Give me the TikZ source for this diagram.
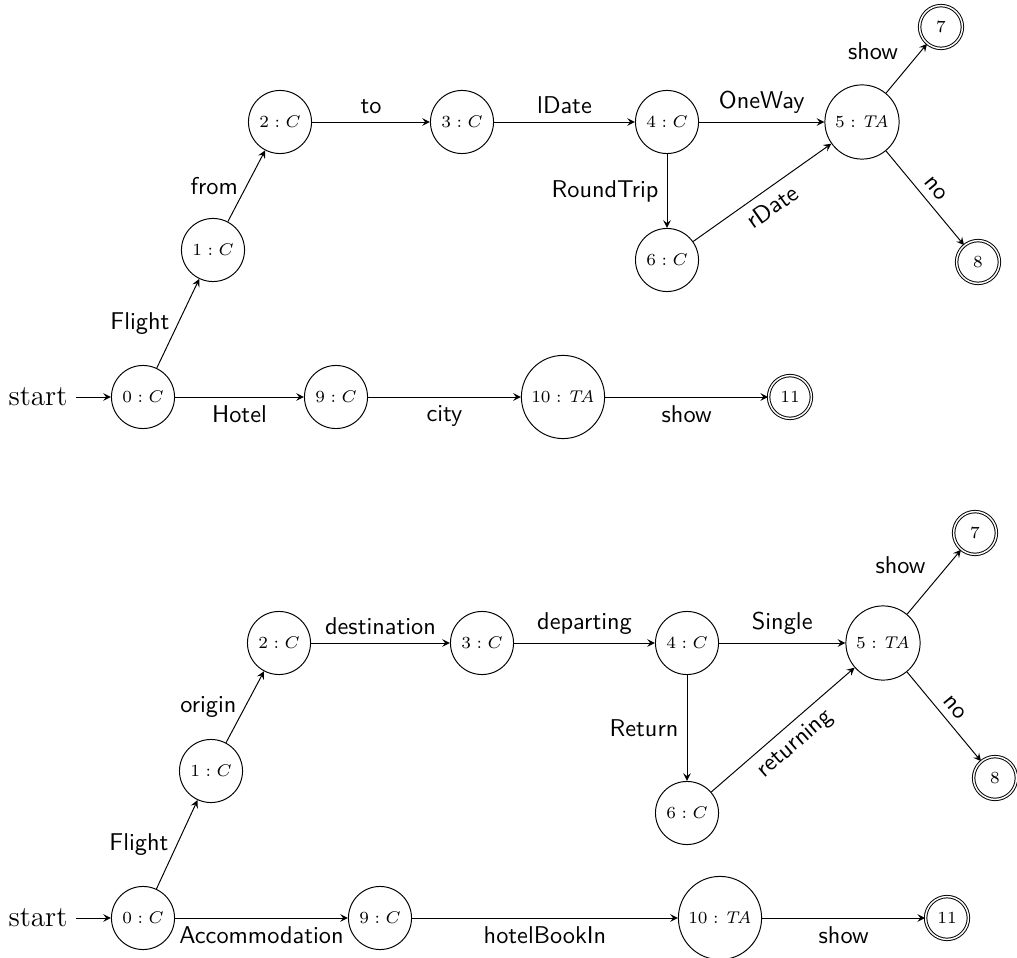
\documentclass[tikz,border=0pt]{standalone}
\begin{document}
\begin{tikzpicture}[x=0.4115pt,y=-0.4115pt,
  cstate/.style={circle,draw,font=\scriptsize,inner sep=3.2pt},
  fstate/.style={cstate,double,minimum size=17.6pt,inner sep=0pt},
  tr/.style={-stealth},
  lbl/.style={font=\sffamily}]
\useasboundingbox (0,0) rectangle (1017,958);
% flights and hotels
\node (s1) at (38,397) {\large start};
\node[cstate] (a0) at (143,397) {$0:C$};
\node[cstate] (a1) at (213,250) {$1:C$};
\node[cstate] (a2) at (280,122) {$2:C$};
\node[cstate] (a3) at (462,122) {$3:C$};
\node[cstate] (a4) at (667,122) {$4:C$};
\node[cstate] (a5) at (862,122) {$5:\mathit{TA}$};
\node[cstate] (a6) at (667,260) {$6:C$};
\node[fstate] (a7) at (941,27) {$7$};
\node[fstate] (a8) at (978,262) {$8$};
\node[cstate] (a9) at (336,397) {$9:C$};
\node[cstate] (a10) at (563,397) {$10:\mathit{TA}$};
\node[fstate] (a11) at (790,397) {$11$};
\draw[tr] (s1) -- (a0);
\draw[tr] (a0) -- node[lbl,left] {Flight} (a1);
\draw[tr] (a1) -- node[lbl,left] {from} (a2);
\draw[tr] (a2) -- node[lbl,above] {to} (a3);
\draw[tr] (a3) -- node[lbl,above] {lDate} (a4);
\draw[tr] (a4) -- node[lbl,above] {OneWay} (a5);
\draw[tr] (a4) -- node[lbl,left] {RoundTrip} (a6);
\draw[tr] (a6) -- node[lbl,below,sloped] {rDate} (a5);
\draw[tr] (a5) -- node[lbl,above left] {show} (a7);
\draw[tr] (a5) -- node[lbl,above,sloped] {no} (a8);
\draw[tr] (a0) -- node[lbl,below] {Hotel} (a9);
\draw[tr] (a9) -- node[lbl,below] {city} (a10);
\draw[tr] (a10) -- node[lbl,below] {show} (a11);
% same with other names
\node (s2) at (38,918) {\large start};
\node[cstate] (b0) at (143,918) {$0:C$};
\node[cstate] (b1) at (211,771) {$1:C$};
\node[cstate] (b2) at (279,643) {$2:C$};
\node[cstate] (b3) at (482,643) {$3:C$};
\node[cstate] (b4) at (687,643) {$4:C$};
\node[cstate] (b5) at (883,643) {$5:\mathit{TA}$};
\node[cstate] (b6) at (687,813) {$6:C$};
\node[fstate] (b7) at (975,533) {$7$};
\node[fstate] (b8) at (995,778) {$8$};
\node[cstate] (b9) at (380,918) {$9:C$};
\node[cstate] (b10) at (720,918) {$10:\mathit{TA}$};
\node[fstate] (b11) at (947,918) {$11$};
\draw[tr] (s2) -- (b0);
\draw[tr] (b0) -- node[lbl,left] {Flight} (b1);
\draw[tr] (b1) -- node[lbl,left] {origin} (b2);
\draw[tr] (b2) -- node[lbl,above] {destination} (b3);
\draw[tr] (b3) -- node[lbl,above] {departing} (b4);
\draw[tr] (b4) -- node[lbl,above] {Single} (b5);
\draw[tr] (b4) -- node[lbl,left] {Return} (b6);
\draw[tr] (b6) -- node[lbl,below,sloped] {returning} (b5);
\draw[tr] (b5) -- node[lbl,above left] {show} (b7);
\draw[tr] (b5) -- node[lbl,above,sloped] {no} (b8);
\draw[tr] (b0) -- node[lbl,below] {Accommodation} (b9);
\draw[tr] (b9) -- node[lbl,below] {hotelBookIn} (b10);
\draw[tr] (b10) -- node[lbl,below] {show} (b11);
\end{tikzpicture}
\end{document}
